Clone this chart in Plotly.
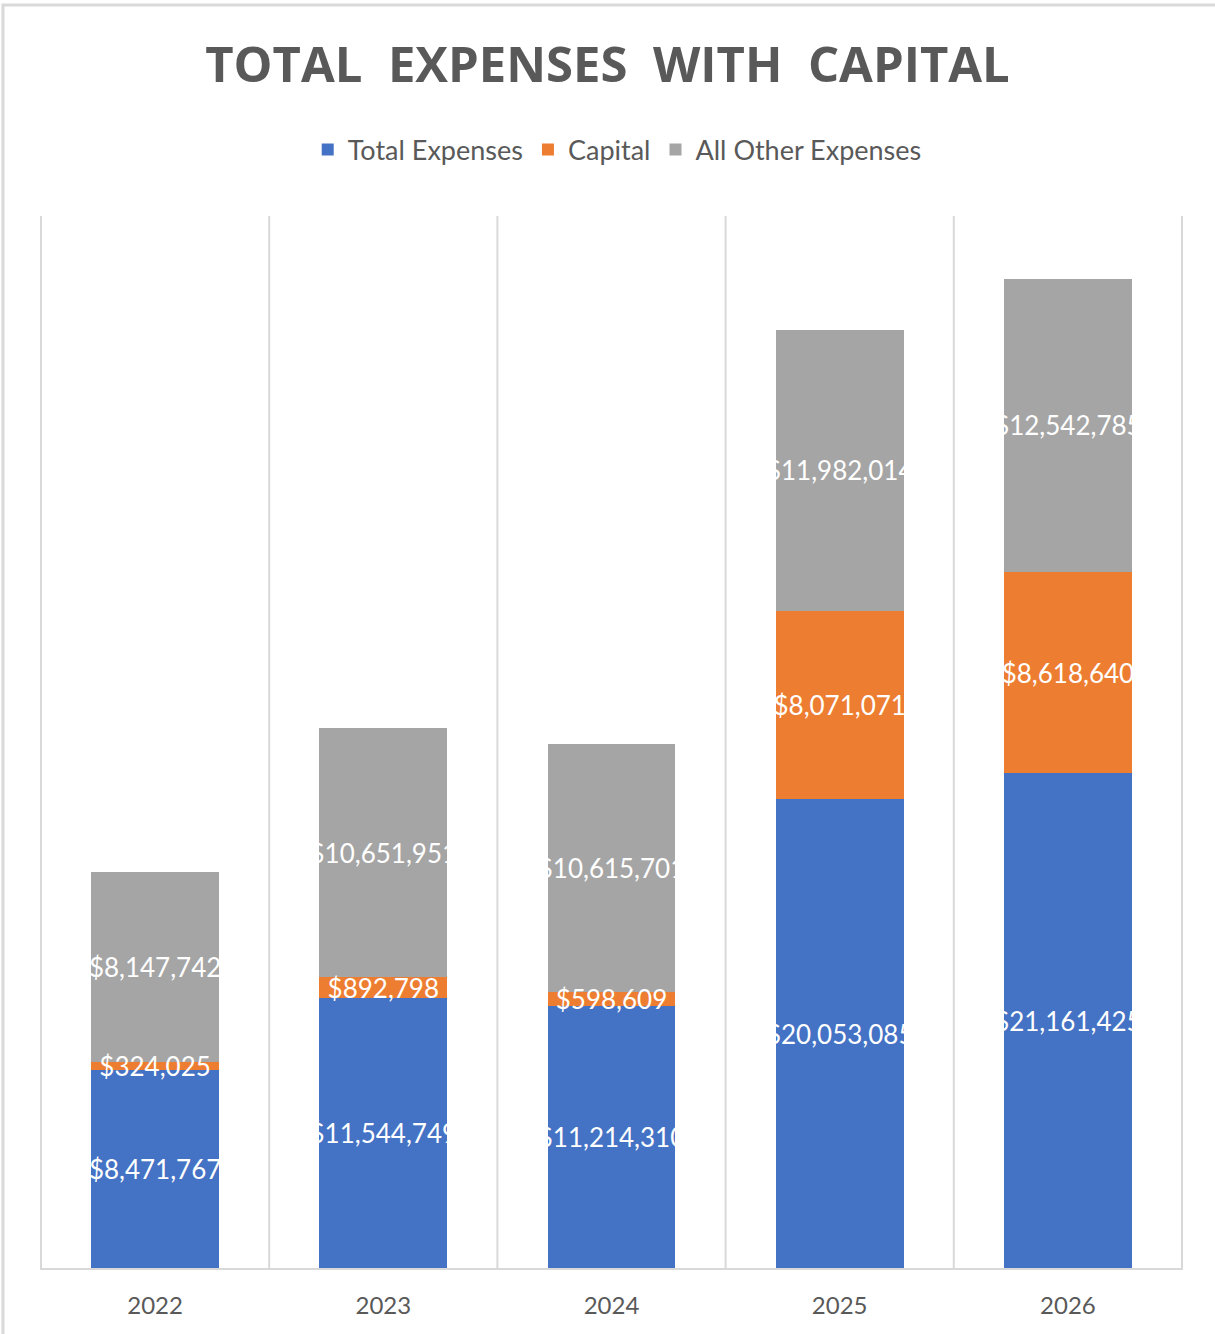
import plotly.graph_objects as go

years = ["2022", "2023", "2024", "2025", "2026"]
total_expenses = [8471767, 11544749, 11214310, 20053085, 21161425]
capital = [324025, 892798, 598609, 8071071, 8618640]
all_other = [8147742, 10651951, 10615701, 11982014, 12542785]

series = [
    ("Total Expenses", total_expenses, "#4472C4"),
    ("Capital", capital, "#ED7D31"),
    ("All Other Expenses", all_other, "#A5A5A5"),
]

fig = go.Figure()
# coloured bars
for name, vals, color in series:
    fig.add_trace(go.Bar(
        x=years, y=vals, name=name,
        marker=dict(color=color, line=dict(width=0)),
        hoverinfo="skip",
    ))
# transparent overlay bars carrying the labels, so labels sit above all bars
for name, vals, color in series:
    fig.add_trace(go.Bar(
        x=years, y=vals, name=name, showlegend=False,
        xaxis="x2", yaxis="y2",
        marker=dict(color="rgba(0,0,0,0)", line=dict(width=0)),
        texttemplate="$%{y:,.0f}",
        textposition="inside",
        insidetextanchor="middle",
        textangle=0,
        textfont=dict(color="white", size=26, family="Lato"),
        hoverinfo="skip",
    ))

# category separator lines
for i in range(len(years) + 1):
    fig.add_shape(type="line", xref="x", yref="paper",
                  x0=i - 0.5, x1=i - 0.5, y0=0, y1=1,
                  line=dict(color="#D9D9D9", width=2), layer="below")

# outer chart frame
fig.add_shape(type="rect", xref="paper", yref="paper",
              x0=-0.0324, x1=1.05, y0=-0.08, y1=1.2006,
              line=dict(color="#D9D9D9", width=3), fillcolor="rgba(0,0,0,0)")

fig.update_layout(
    width=1215, height=1334,
    barmode="stack",
    bargap=0.44,
    paper_bgcolor="white",
    plot_bgcolor="white",
    margin=dict(l=40, r=32, t=216, b=66),
    title=dict(text="TOTAL  EXPENSES  WITH  CAPITAL", x=0.5, xanchor="center",
               y=1 - 65 / 1334, yanchor="middle",
               font=dict(family="Open Sans", size=49, color="#595959", weight="bold")),
    legend=dict(orientation="h", x=0.505, xanchor="center", y=1.0627, yanchor="middle",
                font=dict(family="Lato", size=27, color="#595959"),
                traceorder="normal", itemwidth=30),
    uniformtext=dict(mode="show", minsize=26),
    showlegend=True,
    xaxis=dict(showgrid=False, showline=True, linecolor="#D9D9D9", linewidth=2,
               ticks="", tickfont=dict(family="Lato", size=24, color="#595959"),
               ticklabelstandoff=15),
    yaxis=dict(range=[0, 45e6], showgrid=False, showticklabels=False,
               zeroline=False, showline=False),
    xaxis2=dict(overlaying="x", matches="x", visible=False),
    yaxis2=dict(overlaying="y", range=[0, 45e6], visible=False),
)

fig.write_html("out.html")
